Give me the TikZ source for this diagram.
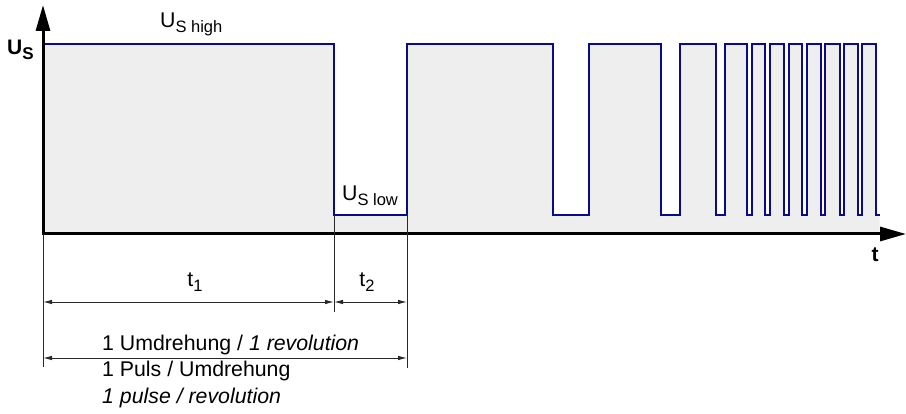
\documentclass[tikz,border=0pt]{standalone}
\usepackage{fontspec}
\setmainfont{Liberation Sans}
\usetikzlibrary{arrows.meta}
\definecolor{wave}{RGB}{10,10,140}
\definecolor{area}{RGB}{238,238,238}
\definecolor{dim}{RGB}{40,40,40}
\newcommand\mysub[1]{\raisebox{-5pt}{\fontsize{16.5}{18}\selectfont #1}}
\tikzset{
  lbl/.style={inner sep=0pt, font=\fontsize{21.3}{25}\selectfont},
  axislbl/.style={inner sep=0pt, font=\fontsize{21}{25}\selectfont\bfseries},
  axisline/.style={line width=3pt, black, -{Triangle[length=26pt,width=14pt]}},
  waveline/.style={line width=2pt, wave, line join=miter},
  extline/.style={line width=0.9pt, dim},
  dimarrow/.style={line width=0.9pt, dim, {Latex[length=9pt,width=4.5pt]}-{Latex[length=9pt,width=4.5pt]}}
}
\begin{document}
\begin{tikzpicture}[x=1pt,y=-1pt]
\useasboundingbox (0,0) rectangle (906,414);
% key coordinates
\coordinate (O) at (43,234);
\coordinate (ytop) at (43,5);
\coordinate (xend) at (906,234);
% waveform path definition
\def\wavepath{(43,44) -- (334,44) -- (334,215) -- (407,215) -- (407,44)
 -- (552.5,44) -- (552.5,215) -- (589,215) -- (589,44)
 -- (661,44) -- (661,215) -- (680,215) -- (680,44)
 -- (716,44) -- (716,215) -- (724.5,215) -- (724.5,44)
 -- (746.5,44) -- (746.5,215) -- (752.3,215) -- (752.3,44)
 -- (764.5,44) -- (764.5,215) -- (770,215) -- (770,44)
 -- (783.5,44) -- (783.5,215) -- (788.5,215) -- (788.5,44)
 -- (802,44) -- (802,215) -- (807,215) -- (807,44)
 -- (821,44) -- (821,215) -- (825.3,215) -- (825.3,44)
 -- (839.5,44) -- (839.5,215) -- (843.5,215) -- (843.5,44)
 -- (857.5,44) -- (857.5,215) -- (861.5,215) -- (861.5,44)
 -- (876,44) -- (876,215) -- (879.5,215)}
% gray area
\fill[area] \wavepath -- (879.5,234) -- (43,234) -- cycle;
% waveform
\draw[waveline] \wavepath;
% axes
\draw[axisline] ([yshift=1.5pt]O) -- (ytop);
\draw[axisline] ([xshift=-1.5pt]O) -- (xend);
% extension lines
\coordinate (e0t) at (43,234);
\coordinate (e0b) at (43,367);
\coordinate (e1t) at (334,215);
\coordinate (e1b) at (334,312);
\coordinate (e2t) at (407,215);
\coordinate (e2b) at (407,368);
\draw[extline] (e0t) -- (e0b);
\draw[extline] (e1t) -- (e1b);
\draw[extline] (e2t) -- (e2b);
% dimension arrows
\coordinate (a0) at (43,302);
\coordinate (a1) at (334,302);
\coordinate (a2) at (407,302);
\coordinate (b0) at (43,358);
\coordinate (b2) at (407,358);
\draw[dimarrow] (a0) -- (a1);
\draw[dimarrow] (a1) -- (a2);
\draw[dimarrow] (b0) -- (b2);
% labels
\node[axislbl, anchor=base west] (us) at (7,55) {U\raisebox{-5pt}{\fontsize{17}{18}\selectfont\bfseries S}};
\node[axislbl, anchor=base] (tt) at (875,262) {t};
\node[lbl, anchor=base west] (ushigh) at (160,28) {U\mysub{S high}};
\node[lbl, anchor=base west] (uslow) at (342,201) {U\mysub{S low}};
\node[lbl, anchor=base] (t1) at (195,287) {t\mysub{1}};
\node[lbl, anchor=base] (t2) at (367,287) {t\mysub{2}};
\node[lbl, anchor=base west] (rev) at (102,351) {1 Umdrehung / \textit{1 revolution}};
\node[lbl, anchor=base west] (puls) at (102,377) {1 Puls / Umdrehung};
\node[lbl, anchor=base west] (pulse) at (102,403) {\textit{1 pulse / revolution}};
\end{tikzpicture}
\end{document}
